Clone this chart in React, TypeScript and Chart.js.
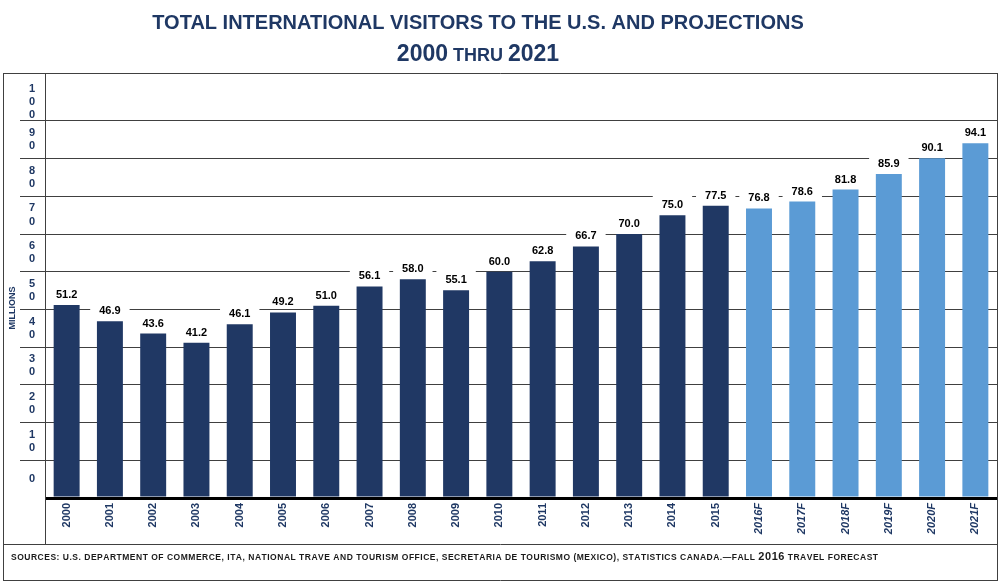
import React, { useEffect, useRef } from 'react';
import { Chart, registerables } from 'chart.js';

Chart.register(...registerables);

const categories = ['2000', '2001', '2002', '2003', '2004', '2005', '2006', '2007', '2008', '2009', '2010', '2011', '2012', '2013', '2014', '2015', '2016F', '2017F', '2018F', '2019F', '2020F', '2021F'];
const visitors = [51.2, 46.9, 43.6, 41.2, 46.1, 49.2, 51.0, 56.1, 58.0, 55.1, 60.0, 62.8, 66.7, 70.0, 75.0, 77.5, 76.8, 78.6, 81.8, 85.9, 90.1, 94.1];
const yTickValues = [0, 10, 20, 30, 40, 50, 60, 70, 80, 90, 100];
const titleLine1 = 'TOTAL INTERNATIONAL VISITORS TO THE U.S. AND PROJECTIONS';
const titleLine2 = '2000 THRU 2021';
const yAxisTitle = 'MILLIONS';
const footerText = 'SOURCES: U.S. DEPARTMENT OF COMMERCE, ITA, NATIONAL TRAVE AND TOURISM OFFICE, SECRETARIA DE TOURISMO (MEXICO), STATISTICS CANADA.\u2014FALL 2016 TRAVEL FORECAST';

const FONT = '"Liberation Sans", Arial, Helvetica, sans-serif';
const NAVY = '#1F3864';
const DARK_BAR = '#203864';
const LIGHT_BAR = '#5B9BD5';
const FRAME = '#404040';

const isForecast = (c: string) => c.endsWith('F');

function splitRuns(text: string) {
  const runs: { t: string; digit: boolean }[] = [];
  for (const ch of text) {
    const d = /[0-9]/.test(ch);
    const last = runs[runs.length - 1];
    if (last && last.digit === d) last.t += ch;
    else runs.push({ t: ch, digit: d });
  }
  return runs;
}

const decorPlugin = {
  id: 'decor',
  afterDatasetsDraw(chart: any) {
    const ctx = chart.ctx;
    const meta = chart.getDatasetMeta(0);
    ctx.save();
    ctx.font = `bold 11px ${FONT}`;
    ctx.textAlign = 'center';
    ctx.textBaseline = 'alphabetic';
    meta.data.forEach((bar: any, i: number) => {
      const label = visitors[i].toFixed(1);
      const w = ctx.measureText(label).width;
      const baseY = bar.y - 7;
      ctx.fillStyle = '#ffffff';
      ctx.fillRect(bar.x - w / 2 - 9, baseY - 13, w + 18, 16);
      ctx.fillStyle = '#000000';
      ctx.fillText(label, bar.x, baseY);
    });
    ctx.restore();
  },
  afterDraw(chart: any) {
    const ctx = chart.ctx;
    const area = chart.chartArea;
    const yScale = chart.scales.y;
    ctx.save();
    // gridline extensions into the axis column
    ctx.strokeStyle = FRAME;
    ctx.lineWidth = 1;
    ctx.beginPath();
    yTickValues.forEach((v) => {
      if (v === 0) return;
      const py = Math.round(yScale.getPixelForValue(v) - 0.5) + 0.5;
      ctx.moveTo(20, py);
      ctx.lineTo(area.left, py);
    });
    ctx.stroke();
    // frame
    ctx.beginPath();
    ctx.moveTo(3, 73.5); ctx.lineTo(997.5, 73.5);
    ctx.moveTo(3.5, 73); ctx.lineTo(3.5, 580.5);
    ctx.moveTo(997.5, 73); ctx.lineTo(997.5, 580.5);
    ctx.moveTo(3, 580.5); ctx.lineTo(998, 580.5);
    ctx.moveTo(3, 544.5); ctx.lineTo(998, 544.5);
    ctx.moveTo(45.5, 73); ctx.lineTo(45.5, 545);
    ctx.stroke();

    // title
    ctx.fillStyle = NAVY;
    ctx.textAlign = 'left';
    ctx.textBaseline = 'alphabetic';
    ctx.font = `bold 20px ${FONT}`;
    const w1 = ctx.measureText(titleLine1).width;
    ctx.fillText(titleLine1, 478 - w1 / 2, 29);
    const runs2 = splitRuns(titleLine2);
    const fontFor2 = (d: boolean) => (d ? `bold 23px ${FONT}` : `bold 18px ${FONT}`);
    let tw = 0;
    runs2.forEach((r) => { ctx.font = fontFor2(r.digit); tw += ctx.measureText(r.t).width; });
    let x = 478 - tw / 2;
    runs2.forEach((r) => {
      ctx.font = fontFor2(r.digit);
      ctx.fillText(r.t, x, 61);
      x += ctx.measureText(r.t).width;
    });

    // y axis title
    ctx.save();
    ctx.translate(13, 308);
    ctx.rotate(-Math.PI / 2);
    ctx.font = `bold 9px ${FONT}`;
    ctx.textAlign = 'center';
    ctx.textBaseline = 'middle';
    ctx.fillStyle = NAVY;
    ctx.fillText(yAxisTitle, 0, 0);
    ctx.restore();

    // footer
    const chars: { ch: string; font: string; w: number }[] = [];
    for (const ch of footerText) {
      const f = /[0-9]/.test(ch) ? `bold 11px ${FONT}` : `bold 8.5px ${FONT}`;
      ctx.font = f;
      chars.push({ ch, font: f, w: ctx.measureText(ch).width });
    }
    const natural = chars.reduce((s, c) => s + c.w, 0);
    const target = 867;
    const extra = (target - natural) / (chars.length - 1);
    let fx = 11;
    ctx.fillStyle = '#1a1a1a';
    ctx.textAlign = 'left';
    chars.forEach((c) => {
      ctx.font = c.font;
      ctx.fillText(c.ch, fx, 560);
      fx += c.w + extra;
    });
    ctx.restore();
  },
};

export default function App() {
  const canvasRef = useRef<HTMLCanvasElement | null>(null);

  useEffect(() => {
    if (!canvasRef.current) return;
    const chart = new Chart(canvasRef.current, {
      type: 'bar',
      data: {
        labels: categories,
        datasets: [
          {
            data: visitors,
            backgroundColor: categories.map((c) => (isForecast(c) ? LIGHT_BAR : DARK_BAR)),
            barPercentage: 0.6,
            categoryPercentage: 1,
            borderWidth: 0,
          },
        ],
      },
      options: {
        responsive: false,
        animation: false,
        devicePixelRatio: 1,
        layout: { padding: { top: 73, right: 3, left: 0, bottom: 0 } },
        plugins: {
          legend: { display: false },
          title: { display: false },
          tooltip: { enabled: false },
        },
        scales: {
          x: {
            grid: { display: false, drawTicks: false },
            border: { display: false },
            ticks: {
              autoSkip: false,
              minRotation: 90,
              maxRotation: 90,
              padding: 5,
              color: NAVY,
              font: (ctx: any) => ({
                family: FONT,
                size: 11,
                weight: 'bold',
                style: isForecast(categories[ctx.index] || '') ? 'italic' : 'normal',
              }),
            },
            afterFit: (scale: any) => { scale.height = 87; },
          },
          y: {
            min: 0,
            max: 112.7,
            border: { display: false },
            grid: {
              drawTicks: false,
              color: (ctx: any) => (ctx.tick && ctx.tick.value === 0 ? '#000000' : FRAME),
              lineWidth: (ctx: any) => (ctx.tick && ctx.tick.value === 0 ? 3 : 1),
            },
            afterBuildTicks: (scale: any) => {
              scale.ticks = yTickValues.map((v) => ({ value: v }));
            },
            ticks: {
              autoSkip: false,
              crossAlign: 'center',
              padding: 10,
              labelOffset: -19,
              color: NAVY,
              font: { family: FONT, size: 11, weight: 'bold', lineHeight: 1.2 },
              callback: (v: any) => String(v).split(''),
            },
            afterFit: (scale: any) => { scale.width = 45; },
          },
        },
      },
      plugins: [decorPlugin],
    });
    return () => chart.destroy();
  }, []);

  return (
    <div style={{ position: 'fixed', left: 0, top: 0, width: 1000, height: 585, background: '#fff' }}>
      <canvas ref={canvasRef} width={1000} height={585} />
    </div>
  );
}
